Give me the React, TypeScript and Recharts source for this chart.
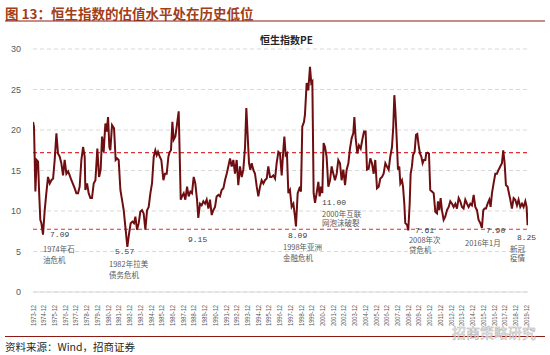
import React from 'react';
import { LineChart, Line, XAxis, YAxis, CartesianGrid, ReferenceLine, ReferenceDot } from 'recharts';

// Month positions as decimal years (Dec 1973 = 1973.92) and Hang Seng PE readings
const dates = [
  1973.92, 1974.01, 1974.14, 1974.26, 1974.39, 1974.48, 1974.60, 1974.70, 1974.85, 1975.01,
  1975.16, 1975.32, 1975.48, 1975.63, 1975.79, 1975.94, 1976.10, 1976.25, 1976.41, 1976.56,
  1976.72, 1976.87, 1977.03, 1977.19, 1977.34, 1977.50, 1977.81, 1977.96, 1978.12, 1978.27,
  1978.43, 1978.59, 1978.74, 1978.80, 1978.96, 1979.11, 1979.27, 1979.42, 1979.58, 1979.74,
  1979.92, 1980.08, 1980.23, 1980.36, 1980.51, 1980.67, 1980.79, 1980.92, 1981.04, 1981.13,
  1981.29, 1981.48, 1981.63, 1981.76, 1981.91, 1982.07, 1982.22, 1982.38, 1982.53, 1982.72,
  1982.88, 1983.03, 1983.19, 1983.34, 1983.47, 1983.62, 1983.78, 1983.93, 1984.09, 1984.24,
  1984.40, 1984.56, 1984.71, 1984.87, 1985.02, 1985.18, 1985.33, 1985.46, 1985.58, 1985.74,
  1985.89, 1986.08, 1986.23, 1986.39, 1986.55, 1986.67, 1986.79, 1986.92, 1987.04, 1987.20,
  1987.32, 1987.51, 1987.70, 1987.82, 1987.98, 1988.13, 1988.29, 1988.44, 1988.60, 1988.75,
  1988.91, 1989.06, 1989.22, 1989.34, 1989.50, 1989.65, 1989.81, 1989.97, 1990.12, 1990.28,
  1990.43, 1990.59, 1990.74, 1990.90, 1991.05, 1991.21, 1991.36, 1991.52, 1991.68, 1991.83,
  1991.99, 1992.14, 1992.30, 1992.45, 1992.61, 1992.76, 1992.92, 1993.07, 1993.23, 1993.39,
  1993.54, 1993.70, 1993.82, 1993.95, 1994.07, 1994.19, 1994.32, 1994.47, 1994.63, 1994.79,
  1994.94, 1995.10, 1995.25, 1995.41, 1995.56, 1995.72, 1995.87, 1996.03, 1996.18, 1996.34,
  1996.50, 1996.65, 1996.81, 1996.96, 1997.12, 1997.27, 1997.37, 1997.49, 1997.61, 1997.74,
  1997.89, 1998.05, 1998.21, 1998.36, 1998.45, 1998.61, 1998.77, 1998.92, 1999.04, 1999.20,
  1999.29, 1999.45, 1999.60, 1999.76, 1999.88, 1999.98, 2000.10, 2000.23, 2000.38, 2000.54,
  2000.66, 2000.79, 2000.91, 2001.03, 2001.16, 2001.31, 2001.47, 2001.63, 2001.78, 2001.94,
  2002.09, 2002.25, 2002.40, 2002.56, 2002.71, 2002.87, 2003.03, 2003.18, 2003.34, 2003.49,
  2003.65, 2003.80, 2003.90, 2004.02, 2004.18, 2004.33, 2004.49, 2004.64, 2004.80, 2004.95,
  2005.08, 2005.23, 2005.39, 2005.54, 2005.70, 2005.85, 2006.01, 2006.17, 2006.32, 2006.48,
  2006.63, 2006.79, 2006.94, 2007.10, 2007.25, 2007.41, 2007.53, 2007.63, 2007.72, 2007.84,
  2007.97, 2008.09, 2008.19, 2008.34, 2008.44, 2008.56, 2008.65, 2008.81, 2008.93, 2009.06,
  2009.15, 2009.27, 2009.37, 2009.52, 2009.65, 2009.77, 2009.90, 2010.02, 2010.15, 2010.27,
  2010.39, 2010.52, 2010.61, 2010.74, 2010.86, 2010.98, 2011.14, 2011.30, 2011.45, 2011.61,
  2011.70, 2011.82, 2011.95, 2012.07, 2012.23, 2012.38, 2012.54, 2012.70, 2012.85, 2013.01,
  2013.16, 2013.32, 2013.47, 2013.63, 2013.78, 2013.94, 2014.09, 2014.25, 2014.41, 2014.56,
  2014.72, 2014.87, 2015.03, 2015.18, 2015.34, 2015.49, 2015.65, 2015.80, 2015.93, 2016.05,
  2016.18, 2016.33, 2016.49, 2016.61, 2016.74, 2016.89, 2017.05, 2017.20, 2017.36, 2017.51,
  2017.67, 2017.79, 2017.92, 2018.04, 2018.20, 2018.32, 2018.45, 2018.60, 2018.76, 2018.91,
  2019.07, 2019.22, 2019.38, 2019.54, 2019.69, 2019.85, 2019.97, 2020.06,
];

const pe = [
  21.0, 20.4, 12.4, 16.3, 16.1, 12.6, 8.9, 8.5, 7.09, 10.1,
  12.2, 14.2, 13.4, 13.8, 14.0, 16.3, 19.6, 17.1, 16.7, 15.9,
  14.4, 16.3, 14.6, 14.9, 14.4, 13.8, 12.8, 12.2, 12.2, 13.0,
  16.3, 17.9, 16.7, 12.6, 13.4, 12.2, 11.6, 11.6, 13.4, 13.8,
  17.7, 14.2, 15.1, 19.2, 17.3, 20.8, 19.8, 21.6, 17.9, 17.5,
  20.6, 20.2, 16.3, 16.5, 16.3, 12.6, 11.4, 10.1, 8.1, 5.57,
  7.2, 8.5, 8.7, 8.5, 9.3, 7.7, 8.5, 9.9, 10.1, 9.7,
  7.7, 10.1, 10.5, 12.2, 13.4, 16.7, 17.5, 16.9, 17.3, 16.7,
  16.3, 13.8, 14.6, 14.6, 16.7, 17.3, 17.5, 21.0, 18.8, 19.2,
  20.4, 22.3, 11.4, 11.8, 12.2, 11.4, 13.0, 11.8, 12.4, 12.2,
  14.2, 13.4, 11.4, 9.15, 10.9, 10.7, 11.2, 10.9, 11.4, 10.3,
  11.4, 9.5, 10.1, 10.5, 11.8, 12.0, 11.8, 12.6, 12.8, 13.8,
  14.6, 15.5, 16.5, 15.5, 16.3, 14.6, 16.3, 13.2, 15.5, 14.2,
  15.1, 17.9, 22.7, 19.2, 15.9, 15.1, 15.9, 15.1, 14.6, 13.0,
  11.8, 13.0, 13.8, 13.4, 13.8, 14.0, 15.5, 14.2, 14.2, 14.4,
  14.0, 15.9, 17.3, 17.1, 14.4, 17.5, 19.2, 16.9, 17.1, 12.2,
  12.6, 10.5, 10.9, 9.3, 8.09, 12.2, 12.8, 12.4, 20.4, 21.0,
  21.9, 25.8, 24.9, 27.8, 25.8, 26.0, 12.2, 11.0, 12.2, 13.6,
  11.8, 13.0, 12.2, 18.4, 17.9, 16.7, 13.0, 13.8, 15.5, 14.6,
  13.8, 14.6, 16.3, 15.9, 13.8, 15.1, 13.2, 15.1, 15.9, 17.7,
  19.0, 19.6, 21.6, 19.0, 17.1, 18.1, 17.7, 18.8, 19.8, 19.8,
  15.1, 15.2, 16.5, 15.9, 14.6, 16.3, 12.8, 13.0, 14.0, 14.2,
  14.6, 15.9, 15.5, 15.1, 16.7, 17.9, 20.4, 24.3, 22.5, 19.2,
  15.1, 15.5, 13.4, 13.8, 13.0, 10.9, 8.5, 8.3, 7.61, 10.9,
  14.6, 15.5, 16.9, 17.3, 19.4, 19.5, 18.1, 17.1, 16.7, 15.9,
  16.3, 16.3, 17.1, 17.2, 17.1, 12.6, 12.4, 12.2, 9.9, 9.7,
  11.2, 10.1, 11.6, 10.1, 8.9, 9.3, 10.1, 10.5, 11.2, 10.9,
  10.5, 10.9, 10.3, 11.6, 11.2, 10.5, 10.3, 11.4, 10.9, 10.5,
  10.9, 10.7, 12.0, 10.5, 10.1, 8.9, 8.5, 7.9, 10.1, 10.3,
  10.3, 10.9, 11.4, 10.5, 12.2, 13.4, 14.6, 14.6, 15.1, 15.5,
  15.9, 17.5, 15.9, 13.2, 13.0, 12.2, 11.4, 10.3, 11.6, 11.4,
  10.7, 11.4, 10.5, 10.9, 10.5, 11.2, 10.5, 8.25,
];

const tickYears = Array.from({ length: 47 }, (_, i) => 1973 + i);
const yTicks = [0, 5, 10, 15, 20, 25, 30];
const upperBand = 17.2;
const lowerBand = 7.75;

// Annotation texts anchored in data coordinates (decimal year, PE)
const annotations = [
  { t: 1975.51, v: 7.04, text: '7.09', kind: 'value' },
  { t: 1974.85, v: 5.31, text: '1974年石', kind: 'note' },
  { t: 1974.85, v: 4.07, text: '油危机', kind: 'note' },
  { t: 1981.57, v: 5.06, text: '5.57', kind: 'value' },
  { t: 1981.01, v: 3.58, text: '1982年拉美', kind: 'note' },
  { t: 1981.01, v: 2.22, text: '债务危机', kind: 'note' },
  { t: 1988.38, v: 6.54, text: '9.15', kind: 'value' },
  { t: 1997.71, v: 6.95, text: '8.09', kind: 'value' },
  { t: 1997.24, v: 5.62, text: '1998年亚洲', kind: 'note' },
  { t: 1997.24, v: 4.32, text: '金融危机', kind: 'note' },
  { t: 2000.88, v: 10.99, text: '11.00', kind: 'value' },
  { t: 2000.88, v: 9.75, text: '2000年互联', kind: 'note' },
  { t: 2000.88, v: 8.52, text: '网泡沫破裂', kind: 'note' },
  { t: 2009.55, v: 7.65, text: '7.61', kind: 'value' },
  { t: 2008.99, v: 6.42, text: '2008年次', kind: 'note' },
  { t: 2008.99, v: 5.19, text: '贷危机', kind: 'note' },
  { t: 2016.18, v: 7.65, text: '7.90', kind: 'value' },
  { t: 2014.22, v: 6.17, text: '2016年1月', kind: 'note' },
  { t: 2019.07, v: 6.67, text: '8.25', kind: 'value' },
  { t: 2018.42, v: 5.43, text: '新冠', kind: 'note' },
  { t: 2018.42, v: 4.20, text: '疫情', kind: 'note' },
];

const data = dates.map((t, i) => ({ t, pe: pe[i] }));

const XTick = (props: any) => {
  const { x, y, payload } = props;
  return (
    <g transform={`translate(${x},${y})`}>
      <text
        transform="rotate(-90)"
        x={-5}
        y={0}
        dy="0.35em"
        textAnchor="end"
        fontSize={7.5}
        fill="#595959"
        fontFamily="Liberation Sans, Arial, sans-serif"
        textLength={21}
        lengthAdjust="spacingAndGlyphs"
      >
        {`${Math.floor(payload.value)}-12`}
      </text>
    </g>
  );
};

const makeLabel = (text: string, kind: string) => (p: any) => (
  <text
    x={p.cx}
    y={p.cy}
    dominantBaseline="central"
    textAnchor="start"
    fontSize={kind === 'value' ? 8 : 7.5}
    fill={kind === 'value' ? '#404040' : '#595959'}
    fontFamily={kind === 'value' ? 'Liberation Mono, monospace' : 'Noto Sans CJK SC, sans-serif'}
  >
    {text}
  </text>
);

export default function App() {
  return (
    <div style={{ position: 'absolute', left: 0, top: 0, width: 550, height: 355, background: '#fff' }}>
      <LineChart
        width={550}
        height={355}
        data={data}
        margin={{ top: 49, right: 22, bottom: 18, left: 8 }}
      >
        <CartesianGrid vertical={false} stroke="#D9D9D9" strokeDasharray="4 3" />
        <XAxis
          dataKey="t"
          type="number"
          domain={[1973 + 11 / 12, 2020.1]}
          ticks={tickYears.map((y) => y + 11 / 12)}
          interval={0}
          tick={<XTick />}
          tickLine={false}
          axisLine={{ stroke: '#D9D9D9' }}
          height={45}
          allowDataOverflow
        />
        <YAxis
          domain={[0, 30]}
          ticks={yTicks}
          width={25}
          axisLine={false}
          tickLine={false}
          tickSize={0}
          tickMargin={12}
          tick={{ fontSize: 9, fill: '#595959', fontFamily: 'Liberation Sans, Arial, sans-serif' }}
        />
        <ReferenceLine y={upperBand} stroke="#E0303A" strokeDasharray="4 3" strokeWidth={1.2} />
        <ReferenceLine y={lowerBand} stroke="#E0303A" strokeDasharray="4 3" strokeWidth={1.2} />
        <Line
          type="linear"
          dataKey="pe"
          stroke="#6E0E10"
          strokeWidth={2}
          dot={false}
          isAnimationActive={false}
        />
        {annotations.map((a, i) => (
          <ReferenceDot
            key={i}
            x={a.t}
            y={a.v}
            r={1}
            shape={makeLabel(a.text, a.kind)}
          />
        ))}
      </LineChart>
      <svg
        width={550}
        height={355}
        style={{ position: 'absolute', left: 0, top: 0, pointerEvents: 'none' }}
      >
        <text
          x={5}
          y={12.5}
          dominantBaseline="central"
          fontSize={13.5}
          fontWeight="bold"
          fill="#A23E18"
          fontFamily="Noto Sans CJK SC, sans-serif"
        >
          图 13：恒生指数的估值水平处在历史低位
        </text>
        <line x1={5} y1={21} x2={545} y2={21} stroke="#8C1C13" strokeWidth={1.2} />
        <text
          x={286.5}
          y={39.5}
          dominantBaseline="central"
          textAnchor="middle"
          fontSize={10}
          fontWeight="bold"
          fill="#262626"
          fontFamily="Noto Sans CJK SC, sans-serif"
        >
          恒生指数PE
        </text>
        <line x1={5} y1={336.5} x2={545} y2={336.5} stroke="#8C1C13" strokeWidth={1.2} />
        <text
          x={5}
          y={346}
          dominantBaseline="central"
          fontSize={10.5}
          fill="#262626"
          fontFamily="Noto Sans CJK SC, sans-serif"
        >
          资料来源：Wind，招商证券
        </text>
        <text
          x={452}
          y={332}
          dominantBaseline="central"
          fontSize={14}
          fill="#ffffff"
          fillOpacity={0.85}
          stroke="#B0B0B0"
          strokeWidth={0.5}
          fontFamily="Noto Sans CJK SC, sans-serif"
        >
          招商策略研究
        </text>
      </svg>
    </div>
  );
}
